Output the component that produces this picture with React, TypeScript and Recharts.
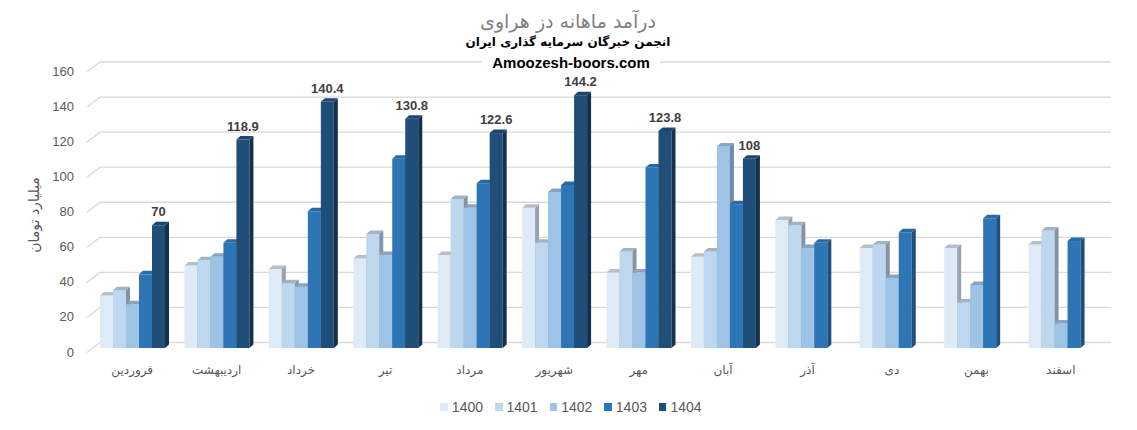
import React from 'react';
import { BarChart, Bar, XAxis, YAxis, CartesianGrid, LabelList } from 'recharts';

const months = ['فروردین', 'اردیبهشت', 'خرداد', 'تیر', 'مرداد', 'شهریور', 'مهر', 'آبان', 'آذر', 'دی', 'بهمن', 'اسفند'];
const years = ['1400', '1401', '1402', '1403', '1404'];
const v1400 = [30, 47, 45, 51, 53, 80, 43, 52, 73, 57, 57, 59];
const v1401 = [33, 50, 37, 65, 85, 60, 55, 55, 70, 59, 26, 67];
const v1402 = [25, 52, 35, 53, 80, 89, 43, 115, 57, 40, 36, 14];
const v1403 = [42, 60, 78, 108, 94, 93, 103, 82, 60, 66, 74, 61];
const v1404: (number | null)[] = [70, 118.9, 140.4, 130.8, 122.6, 144.2, 123.8, 108, null, null, null, null];
const yTicks = [0, 20, 40, 60, 80, 100, 120, 140, 160];

const fills = ['#DEEBF7', '#BDD7EE', '#9DC3E6', '#2E75B6', '#1F4E79'];
const tops = ['#b4bfcb', '#a3b3c3', '#8aa4be', '#2a6aa3', '#1c4670'];
const sides = ['#97a3af', '#8494a5', '#6f8aa6', '#1f4f7e', '#15304d'];

const series = [v1400, v1401, v1402, v1403, v1404];
const data = months.map((m, i) => {
  const row: any = { month: m };
  years.forEach((y, k) => {
    row['y' + y] = series[k][i];
  });
  return row;
});

const DX = 4;
const DY = 3.5;

const makeShape = (k: number) => (props: any) => {
  const { x, y, width, height } = props;
  if (x == null || y == null || !height || height <= 0) return <g />;
  const w = width;
  const h = height;
  return (
    <g>
      <rect x={x} y={y} width={w} height={h} fill={fills[k]} />
      <polygon
        points={`${x},${y} ${x + DX},${y - DY} ${x + w + DX},${y - DY} ${x + w},${y}`}
        fill={tops[k]}
      />
      <polygon
        points={`${x + w},${y} ${x + w + DX},${y - DY} ${x + w + DX},${y + h - DY} ${x + w},${y + h}`}
        fill={sides[k]}
      />
    </g>
  );
};

const gridLine = (props: any) => {
  const { x1, x2, y1 } = props;
  const yb = y1 - 5.5;
  return (
    <g key={`g-${props.index}-${y1}`}>
      <line x1={x1 - 3} y1={yb + 10} x2={x1 + 10} y2={yb} stroke="#d9d9d9" strokeWidth={1.3} />
      <line x1={x1 + 10} y1={yb} x2={x2 + 8} y2={yb} stroke="#d9d9d9" strokeWidth={1.3} />
    </g>
  );
};

const YTick = (props: any) => {
  const { x, y, payload } = props;
  return (
    <text x={x} y={y + 4} textAnchor="end" dominantBaseline="central" fontSize={13}
      fontFamily="'Liberation Sans', Arial, sans-serif" fill="#595959">
      {payload.value}
    </text>
  );
};

const XTick = (props: any) => {
  const { x, y, payload } = props;
  return (
    <text x={x} y={y + 22} textAnchor="middle" dominantBaseline="central" fontSize={12}
      fontFamily="'DejaVu Sans', sans-serif" fill="#595959">
      {payload.value}
    </text>
  );
};

export default function App() {
  return (
    <div style={{ position: 'absolute', left: 0, top: 0, width: 1137, height: 430, background: '#fff' }}>
      <BarChart
        width={1137}
        height={430}
        data={data}
        margin={{ top: 67.5, right: 34, bottom: 52, left: 40 }}
        barGap={0}
        barSize={13}
      >
        <CartesianGrid vertical={false} horizontal={gridLine as any} />
        <XAxis dataKey="month" axisLine={false} tickLine={false} tickSize={0} tickMargin={0}
          height={30} tick={<XTick />} interval={0} />
        <YAxis domain={[0, 160]} ticks={yTicks} axisLine={false} tickLine={false} tickSize={0}
          tickMargin={16} width={50} tick={<YTick />} interval={0} />
        {years.map((yr, k) => (
          <Bar key={yr} dataKey={'y' + yr} fill={fills[k]} shape={makeShape(k)} isAnimationActive={false}>
            {k === 4 ? (
              <LabelList dataKey={'y' + yr} position="top" offset={9}
                style={{ fontWeight: 'bold', fontSize: 13, fill: '#404040', fontFamily: "'Liberation Sans', Arial, sans-serif" }} />
            ) : null}
          </Bar>
        ))}
      </BarChart>

      <div style={{ position: 'absolute', left: 368, top: 8, width: 400, textAlign: 'center', direction: 'rtl',
        fontFamily: "'DejaVu Sans', sans-serif", fontSize: 19, color: '#808080', lineHeight: '26px' }}>
        درآمد ماهانه دز هراوی
      </div>
      <div style={{ position: 'absolute', left: 368, top: 32, width: 400, textAlign: 'center', direction: 'rtl',
        fontFamily: "'DejaVu Sans', sans-serif", fontSize: 12, fontWeight: 'bold', color: '#000', lineHeight: '20px' }}>
        انجمن خبرگان سرمایه گذاری ایران
      </div>
      <div style={{ position: 'absolute', left: 482, top: 53, width: 178, height: 20, background: '#fff', textAlign: 'center',
        fontFamily: "'Liberation Sans', Arial, sans-serif", fontSize: 15, fontWeight: 'bold', color: '#000', lineHeight: '20px' }}>
        Amoozesh-boors.com
      </div>

      <div style={{ position: 'absolute', left: 34, top: 215, width: 0, height: 0 }}>
        <div style={{ position: 'absolute', left: -60, top: -10, width: 120, height: 20, textAlign: 'center', direction: 'rtl',
          transform: 'rotate(-90deg)', fontFamily: "'DejaVu Sans', sans-serif", fontSize: 14, color: '#595959', lineHeight: '20px', whiteSpace: 'nowrap' }}>
          میلیارد تومان
        </div>
      </div>

      <div style={{ position: 'absolute', left: 0, top: 398, width: 1142, display: 'flex', justifyContent: 'center',
        fontFamily: "'Liberation Sans', Arial, sans-serif", fontSize: 14, color: '#595959', lineHeight: '18px' }}>
        {years.map((yr, k) => (
          <div key={yr} style={{ display: 'flex', alignItems: 'center', marginRight: k < 4 ? 12 : 0 }}>
            <span style={{ display: 'inline-block', width: 7.5, height: 7.5, background: fills[k], marginRight: 4 }} />
            <span>{yr}</span>
          </div>
        ))}
      </div>
    </div>
  );
}
